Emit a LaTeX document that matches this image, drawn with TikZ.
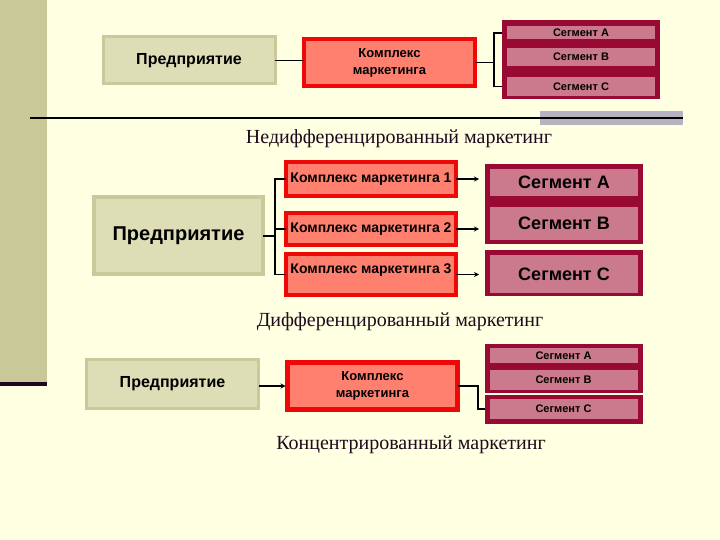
\documentclass[tikz,border=0pt]{standalone}
\usepackage{fontspec}
\setmainfont{Liberation Serif}
\setsansfont{Liberation Sans}
\usepackage{xcolor}
\usetikzlibrary{arrows.meta,positioning,calc}
\definecolor{bgcol}{RGB}{255,255,225}
\definecolor{bandcol}{RGB}{200,200,152}
\definecolor{firmfill}{RGB}{221,221,182}
\definecolor{firmline}{RGB}{201,201,155}
\definecolor{mixfill}{RGB}{255,128,110}
\definecolor{mixline}{RGB}{238,8,8}
\definecolor{segdark}{RGB}{152,10,52}
\definecolor{segfill}{RGB}{202,122,140}
\definecolor{barcol}{RGB}{182,178,192}
\definecolor{ttlcol}{RGB}{30,10,30}

\begin{document}
\begin{tikzpicture}[x=1pt,y=-1pt,
  every node/.style={inner sep=0pt,outer sep=0pt},
  firm/.style={fill=firmfill,draw=firmline,line width=3pt,font=\sffamily\bfseries\fontsize{#1}{#1}\selectfont},
  mixbox/.style={fill=mixfill,draw=mixline,line width=4.5pt,align=center,font=\sffamily\bfseries\fontsize{#1}{#1}\selectfont},
  segouter/.style={fill=segdark,minimum width=158pt},
  segrow/.style={fill=segfill,minimum width=148pt,font=\sffamily\bfseries\fontsize{#1}{#1}\selectfont},
  conn/.style={line width=1.6pt},
  arr/.style={line width=1.6pt,-{Stealth[length=5pt,width=5pt]}},
  ttl/.style={text=ttlcol,font=\fontsize{20}{20}\selectfont}]
  \fill[bgcol] (0,0) rectangle (720,540);
  \useasboundingbox (0,0) rectangle (720,540);
  \fill[bandcol] (0,0) rectangle (47,382);
  \fill[ttlcol] (0,382) rectangle (47,386);
  \fill[barcol] (540,111) rectangle (683,125);
  \draw[line width=2pt] (30,118) -- (683,118);

  \node (firm1) [firm=16,minimum width=172pt,minimum height=47pt] at (189,60.5) {Предприятие};
  \node (mix1) [mixbox=13,minimum width=171pt,minimum height=47pt] at (389.5,62.5) {Комплекс\\[4pt]маркетинга};
  \node (stack1) [segouter,minimum height=79pt] at (581,59.5) {};
  \node (sa1) [segrow=11,minimum height=13pt] at (581,33) {Сегмент A};
  \node (sb1) [segrow=11,minimum height=18pt] at (581,57) {Сегмент B};
  \node (sc1) [segrow=11,minimum height=19pt] at (581,86.5) {Сегмент C};
  \coordinate (j1) at (494,62.5);
  \draw[conn] (firm1.east) -- (firm1.east -| mix1.west);
  \draw[conn] (mix1.east) -- (j1);
  \draw[conn] (stack1.west |- sa1) -| (j1) |- (stack1.west |- sc1);
  \node (t1) [ttl] at (399,139) {Недифференцированный маркетинг};

  \node (firm2) [firm=20,line width=4pt,minimum width=169pt,minimum height=77pt] at (178.5,235.5) {Предприятие};
  \node (mx1) [mixbox=14,minimum width=170pt,minimum height=34pt] at (371,179) {Комплекс маркетинга 1};
  \node (mx2) [mixbox=14,minimum width=170pt,minimum height=32pt] at (371,229) {Комплекс маркетинга 2};
  \node (mx3) [mixbox=14,minimum width=170pt,minimum height=41pt,text depth=12pt] at (371,274.5) {Комплекс маркетинга 3};
  \node (stack2) [segouter,minimum height=80pt] at (564,204) {};
  \node (stack3) [segouter,minimum height=46pt] at (564,273) {};
  \node (sa2) [segrow=18,minimum height=27pt] at (564,182.5) {Сегмент A};
  \node (sb2) [segrow=18,minimum height=33pt] at (564,223.5) {Сегмент B};
  \node (sc2) [segrow=18,minimum height=38pt] at (564,274) {Сегмент C};
  \coordinate (j2) at (275,236);
  \draw[conn] (firm2.east |- j2) -- (j2);
  \draw[conn] (mx1.west) -| (j2) |- (mx3.west);
  \draw[conn] (mx2.west) -- (mx2.west -| j2);
  \draw[arr,shorten >=6pt] (mx1.east) -- (mx1.east -| stack2.west);
  \draw[arr,shorten >=6pt] (mx2.east) -- (mx2.east -| stack2.west);
  \draw[arr,shorten >=6pt] (mx3.east) -- (mx3.east -| stack3.west);
  \node (t2) [ttl] at (400,322) {Дифференцированный маркетинг};

  \node (firm3) [firm=16,minimum width=172pt,minimum height=49pt] at (172.5,384) {Предприятие};
  \node (mix3) [mixbox=13,minimum width=170pt,minimum height=47pt] at (372.5,386) {Комплекс\\[4pt]маркетинга};
  \node (stack4) [segouter,minimum height=49pt] at (564,368.5) {};
  \node (stack5) [segouter,minimum height=29pt] at (564,409.5) {};
  \node (sa3) [segrow=11,minimum height=15pt] at (563.5,355.5) {Сегмент A};
  \node (sb3) [segrow=11,minimum height=20pt] at (563.5,380) {Сегмент B};
  \node (sc3) [segrow=11,minimum height=20pt] at (563.5,409) {Сегмент C};
  \coordinate (j3) at (478,386);
  \draw[arr,shorten >=2pt] (firm3.east |- mix3) -- (mix3.west);
  \draw[conn] (mix3.east) -- (j3) |- (stack5.west |- sc3);
  \node (t3) [ttl] at (411,445) {Концентрированный маркетинг};
\end{tikzpicture}
\end{document}
